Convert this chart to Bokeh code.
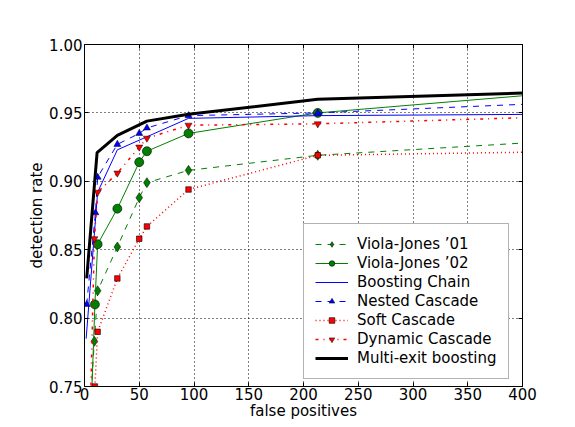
from bokeh.plotting import figure
from bokeh.models import Range1d, LinearAxis, PrintfTickFormatter, CustomJSTickFormatter
from bokeh.embed import file_html
from bokeh.resources import INLINE

# ---- data ----
vj01_x = [4, 9, 12, 30, 50, 57, 95, 213, 422]
vj01_y = [0.720, 0.783, 0.820, 0.852, 0.888, 0.899, 0.908, 0.919, 0.929]

vj02_x = [5.5, 9.5, 12, 30, 50, 57, 95, 213, 422]
vj02_y = [0.720, 0.810, 0.854, 0.880, 0.914, 0.922, 0.935, 0.950, 0.964]

chain_x = [1.5, 12, 30, 95, 213, 422]
chain_y = [0.785, 0.892, 0.923, 0.946, 0.948, 0.949]

nested_x = [2, 10, 12, 30, 50, 57, 95, 213, 422]
nested_y = [0.810, 0.877, 0.903, 0.927, 0.935, 0.939, 0.948, 0.950, 0.957]

soft_x = [9.5, 12, 30, 50, 57, 95, 213, 422]
soft_y = [0.750, 0.790, 0.829, 0.858, 0.867, 0.894, 0.919, 0.9215]

dyn_x = [5, 9, 12, 30, 50, 57, 95, 213, 422]
dyn_y = [0.720, 0.858, 0.892, 0.906, 0.925, 0.9315, 0.941, 0.942, 0.947]

multi_x = [2, 11.5, 30, 57, 95, 213, 422]
multi_y = [0.829, 0.921, 0.9335, 0.944, 0.949, 0.960, 0.965]

x_ticks = [0, 50, 100, 150, 200, 250, 300, 350, 400]
y_ticks = [0.75, 0.80, 0.85, 0.90, 0.95, 1.00]

FONT = "DejaVu Sans"

p = figure(width=575, height=427, output_backend="svg", toolbar_location=None,
           x_range=Range1d(0, 400), y_range=Range1d(0.75, 1.0),
           min_border_left=84, min_border_right=53, min_border_top=44, min_border_bottom=41)
p.background_fill_color = "white"
p.border_fill_color = "white"
p.outline_line_color = "black"
p.outline_line_width = 1

# axes styling
for ax in (p.xaxis[0], p.yaxis[0]):
    ax.major_tick_in = 4
    ax.major_tick_out = 0
    ax.minor_tick_line_color = None
    ax.axis_line_color = "black"
    ax.major_label_text_font = FONT
    ax.major_label_text_font_size = "15px"
    ax.major_label_text_color = "black"
    ax.axis_label_text_font = FONT
    ax.axis_label_text_font_size = "15px"
    ax.axis_label_text_font_style = "normal"
    ax.axis_label_text_color = "black"

p.xaxis.ticker = x_ticks
p.yaxis.ticker = y_ticks
p.yaxis.formatter = PrintfTickFormatter(format="%.2f")
p.xaxis.axis_label = "false positives"
p.yaxis.axis_label = "detection rate"
p.xaxis.major_label_standoff = 1
p.xaxis.axis_label_standoff = -1
p.yaxis.major_label_standoff = 2
p.yaxis.axis_label_standoff = 0

# inward ticks on top and right (no labels)
for loc in ("right", "above"):
    ax = LinearAxis(ticker=x_ticks if loc == "above" else y_ticks,
                    formatter=CustomJSTickFormatter(code="return ''"))
    ax.major_tick_in = 4
    ax.major_tick_out = 0
    ax.minor_tick_line_color = None
    ax.major_label_standoff = 0
    ax.axis_line_color = "black"
    p.add_layout(ax, loc)

p.grid.grid_line_color = "black"
p.grid.grid_line_dash = "1 3"
p.grid.grid_line_width = 1
p.xgrid.ticker = x_ticks
p.ygrid.ticker = y_ticks

# ---- series ----
p.line(vj01_x, vj01_y, line_color="#008000", line_width=1, line_dash="6 6", legend_label="Viola-Jones \u201901")
p.scatter(vj01_x, vj01_y, marker="diamond", size=10, fill_color="#008000", line_color="black", line_width=0.5,
          legend_label="Viola-Jones \u201901")

p.line(vj02_x, vj02_y, line_color="#008000", line_width=1, legend_label="Viola-Jones \u201902")
p.scatter(vj02_x, vj02_y, marker="circle", size=9, fill_color="#008000", line_color="black", line_width=0.6,
          legend_label="Viola-Jones \u201902")

p.line(chain_x, chain_y, line_color="#0000ff", line_width=1, legend_label="Boosting Chain")

p.line(nested_x, nested_y, line_color="#0000ff", line_width=1, line_dash="6 6", legend_label="Nested Cascade")
p.scatter(nested_x, nested_y, marker="triangle", size=7, fill_color="#0000ff", line_color="black", line_width=0.5,
          legend_label="Nested Cascade")

p.line(soft_x, soft_y, line_color="#ff0000", line_width=1.5, line_dash="1 3", legend_label="Soft Cascade")
p.scatter(soft_x, soft_y, marker="square", size=5.5, fill_color="#ff0000", line_color="black", line_width=0.6,
          legend_label="Soft Cascade")

p.line(dyn_x, dyn_y, line_color="#ff0000", line_width=1.5, line_dash="3 5 1 5", legend_label="Dynamic Cascade")
p.scatter(dyn_x, dyn_y, marker="inverted_triangle", size=7, fill_color="#ff0000", line_color="black", line_width=0.5,
          legend_label="Dynamic Cascade")

p.line(multi_x, multi_y, line_color="black", line_width=3, legend_label="Multi-exit boosting")

# legend
lg = p.legend[0]
lg.location = (219, 7)
lg.label_text_font = FONT
lg.label_text_font_size = "15px"
lg.label_text_color = "black"
lg.glyph_width = 33
lg.glyph_height = 14
lg.label_height = 16
lg.spacing = 1
lg.padding = 11
lg.margin = 0
lg.label_standoff = 9
lg.border_line_color = "#666666"
lg.border_line_width = 1.5
lg.background_fill_color = "white"
lg.background_fill_alpha = 1.0

open("out.html", "w").write(file_html(p, INLINE))
